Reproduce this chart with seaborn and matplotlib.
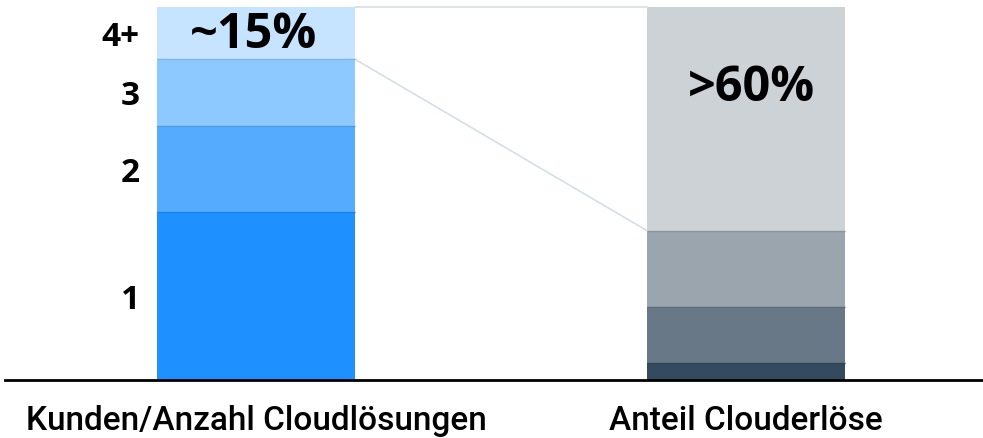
import numpy as np
import matplotlib
matplotlib.use('Agg')
from matplotlib import pyplot as plt
from matplotlib import colors as mcolors
import seaborn as sns

# %% Data
categories = ["Kunden/Anzahl Cloudlösungen", "Anteil Clouderlöse"]
level_labels = ["1", "2", "3", "4+"]
kunden_values = [45, 23, 18, 14]        # share of customers by number of cloud solutions
erloese_values = [4.5, 15, 20.5, 60]    # share of cloud revenue, same layers
kunden_colors = ["#1E90FF", "#55ACFF", "#8DC8FF", "#C6E3FF"]
erloese_colors = ["#344A5E", "#687886", "#9BA5AE", "#CDD2D6"]
kunden_note = "~15%"
erloese_note = ">60%"

# %% Figure
sns.set_style("white")
plt.rcParams['font.family'] = ['Open Sans', 'DejaVu Sans']

my_dpi = 100
fig = plt.figure(figsize=(983 / my_dpi, 439 / my_dpi), dpi=my_dpi)
ax = fig.add_axes([5 / 983, 58 / 439, 978 / 983, 373 / 439])

bar_w = 0.404
stacks = [kunden_values, erloese_values]
palettes = [kunden_colors, erloese_colors]

for i, (vals, cols) in enumerate(zip(stacks, palettes)):
    bottoms = np.concatenate([[0], np.cumsum(vals)[:-1]])
    for v, b, c in zip(vals, bottoms, cols):
        sns.barplot(x=[categories[i]], y=[v], order=categories, bottom=b,
                    color=c, saturation=1, width=bar_w, errorbar=None,
                    linewidth=0, ax=ax)
    # thin divider line on top of each inner segment
    tops = np.cumsum(vals)[:-1]
    for t, c in zip(tops, cols[:-1]):
        dark = np.array(mcolors.to_rgb(c)) * 0.9
        ax.hlines(t, i - bar_w / 2, i + bar_w / 2, color=dark, lw=1, zorder=3)

# connector lines between the two stacks
k_cum = np.cumsum(kunden_values)
e_cum = np.cumsum(erloese_values)
ax.plot([bar_w / 2, 1 - bar_w / 2], [k_cum[-1], e_cum[-1]],
        color="#D6DEE8", lw=1.2, clip_on=False, zorder=1)
ax.plot([bar_w / 2, 1 - bar_w / 2], [k_cum[-2], e_cum[-2]],
        color="#D6DEE8", lw=1.2, clip_on=False, zorder=1)

# layer labels left of the first stack
k_mid = k_cum - np.array(kunden_values) / 2
for lab, y in zip(level_labels, k_mid):
    ax.text(-bar_w / 2 - 0.035, y - 0.8, lab, ha="right", va="center",
            fontsize=24, fontweight="bold", color="black")

# highlight notes
ax.text(-0.005, k_mid[-1] - 0.3, kunden_note, ha="center", va="center",
        fontsize=35, fontweight="bold", color="black")
ax.text(1.01, 78.5, erloese_note, ha="center", va="center",
        fontsize=35, fontweight="bold", color="black")

ax.set_xlim(-0.512, 1.483)
ax.set_ylim(0, 100)
ax.set_xlabel("")
ax.set_ylabel("")
ax.set_yticks([])
sns.despine(ax=ax, left=True, top=True, right=True)
ax.spines['bottom'].set_color("black")
ax.spines['bottom'].set_linewidth(2)
ax.spines['bottom'].set_zorder(4)
ax.tick_params(axis='x', length=0, pad=17, labelsize=24, labelcolor="black")
for t in ax.get_xticklabels():
    t.set_family(['Roboto', 'DejaVu Sans'])
    t.set_fontweight(500)

plt.savefig("out.png", dpi=my_dpi)
plt.close()
